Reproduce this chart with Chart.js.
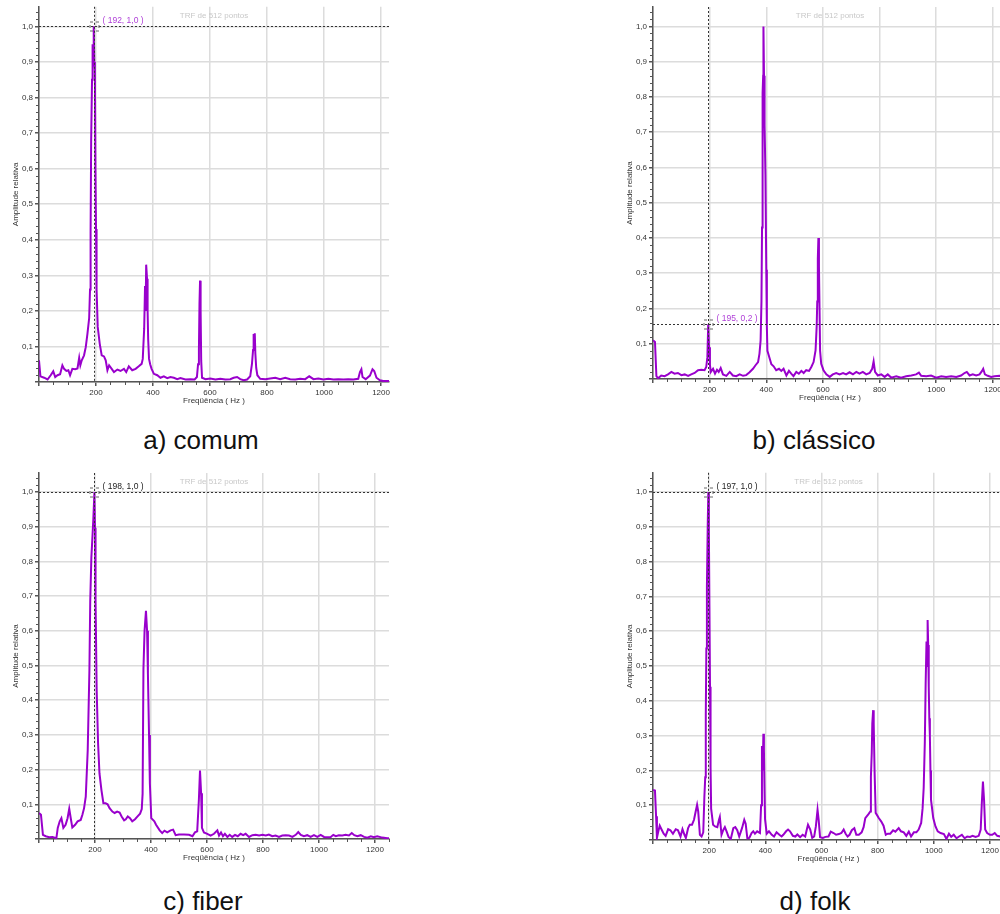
<!DOCTYPE html>
<html>
<head>
<meta charset="utf-8">
<script src="https://cdn.jsdelivr.net/npm/chart.js@4.4.1/dist/chart.umd.min.js"></script>
<style>
  html, body { margin: 0; padding: 0; background: #fff; }
  body { position: relative; width: 1000px; height: 914px; overflow: hidden; }
  canvas { position: absolute; }
  .caption {
    position: absolute; width: 300px; text-align: center;
    font-family: "Liberation Sans", Arial, sans-serif; font-size: 26px;
    line-height: 30px; color: #111;
  }
</style>
</head>
<body>
<canvas id="comum" width="392" height="410" style="left:0px;top:0px"></canvas>
<canvas id="classico" width="395" height="407" style="left:614px;top:0px"></canvas>
<canvas id="fiber" width="391" height="401" style="left:0px;top:466px"></canvas>
<canvas id="folk" width="392" height="402" style="left:614px;top:466px"></canvas>

<div class="caption" style="left:51px;top:425px">a) comum</div>
<div class="caption" style="left:664px;top:425px">b) clássico</div>
<div class="caption" style="left:53px;top:886px">c) fiber</div>
<div class="caption" style="left:665px;top:886px">d) folk</div>

<script>
// Espectros (TRF de 512 pontos) - frequência em Hz, amplitude relativa
const freqComum = [
  0, 5, 18, 30, 41, 50, 57, 65, 74, 82,
  88, 96, 103, 109, 117, 127, 135, 141, 145, 150,
  158, 164, 170, 176, 179, 181, 183, 186, 188, 190,
  192, 194, 196, 198, 200, 202, 206, 213, 220, 228,
  234, 240, 246, 255, 263, 275, 286, 298, 306, 315,
  327, 339, 350, 360, 364, 366, 369, 372, 374, 376,
  379, 381, 383, 386, 390, 395, 403, 415, 426, 438,
  450, 461, 473, 485, 496, 514, 531, 546, 554, 558,
  561, 563, 565, 567, 569, 572, 584, 601, 619, 636,
  654, 671, 683, 695, 706, 718, 730, 741, 747, 751,
  753, 755, 757, 759, 762, 766, 776, 794, 811, 829,
  846, 864, 881, 899, 916, 934, 948, 963, 980, 998,
  1015, 1033, 1050, 1068, 1085, 1103, 1120, 1126, 1131, 1135,
  1146, 1161, 1170, 1176, 1184, 1196, 1208, 1228
];
const ampComum = [
  0.061, 0.016, 0.012, 0.007, 0.019, 0.030, 0.014, 0.019, 0.022, 0.047,
  0.037, 0.031, 0.033, 0.019, 0.037, 0.036, 0.038, 0.068, 0.047, 0.061,
  0.075, 0.098, 0.136, 0.180, 0.260, 0.420, 0.680, 0.850, 0.950, 0.900,
  1.000, 0.900, 0.880, 0.600, 0.430, 0.260, 0.155, 0.108, 0.075, 0.072,
  0.061, 0.033, 0.047, 0.037, 0.028, 0.035, 0.031, 0.037, 0.028, 0.044,
  0.033, 0.037, 0.044, 0.051, 0.065, 0.100, 0.150, 0.270, 0.200, 0.330,
  0.290, 0.200, 0.120, 0.065, 0.050, 0.037, 0.023, 0.019, 0.012, 0.016,
  0.011, 0.014, 0.012, 0.008, 0.011, 0.007, 0.008, 0.007, 0.014, 0.050,
  0.090, 0.220, 0.285, 0.200, 0.060, 0.012, 0.008, 0.010, 0.007, 0.009,
  0.007, 0.008, 0.012, 0.014, 0.008, 0.005, 0.007, 0.016, 0.050, 0.090,
  0.135, 0.110, 0.137, 0.080, 0.040, 0.019, 0.009, 0.008, 0.010, 0.012,
  0.008, 0.012, 0.008, 0.007, 0.009, 0.008, 0.016, 0.008, 0.010, 0.007,
  0.009, 0.007, 0.008, 0.007, 0.008, 0.007, 0.009, 0.028, 0.036, 0.014,
  0.008, 0.018, 0.036, 0.031, 0.012, 0.005, 0.003, 0.003
];

const freqClassico = [
  0, 3, 7, 12, 18, 29, 41, 53, 65, 76,
  88, 100, 112, 124, 135, 147, 159, 171, 182, 188,
  192, 195, 198, 201, 204, 212, 219, 226, 232, 239,
  247, 259, 271, 282, 294, 306, 318, 329, 341, 353,
  362, 371, 376, 380, 383, 385, 387, 389, 390, 392,
  394, 397, 400, 402, 404, 412, 418, 426, 435, 445,
  453, 461, 471, 480, 488, 496, 506, 515, 524, 532,
  541, 551, 559, 567, 574, 578, 580, 582, 584, 586,
  588, 590, 594, 602, 612, 624, 635, 647, 659, 671,
  682, 694, 706, 718, 729, 741, 753, 765, 774, 779,
  784, 794, 806, 818, 829, 841, 859, 876, 894, 912,
  929, 939, 947, 965, 982, 1000, 1018, 1035, 1053, 1071,
  1088, 1100, 1108, 1118, 1129, 1141, 1153, 1162, 1166, 1172,
  1182, 1194, 1206, 1224, 1240, 1250
];
const ampClassico = [
  0.110, 0.110, 0.105, 0.008, 0.002, 0.010, 0.008, 0.013, 0.020, 0.015,
  0.017, 0.011, 0.013, 0.009, 0.013, 0.017, 0.025, 0.026, 0.025, 0.034,
  0.062, 0.155, 0.090, 0.040, 0.020, 0.029, 0.015, 0.026, 0.020, 0.031,
  0.013, 0.009, 0.020, 0.010, 0.008, 0.013, 0.009, 0.011, 0.019, 0.029,
  0.039, 0.048, 0.072, 0.110, 0.220, 0.430, 0.810, 0.860, 1.000, 0.860,
  0.720, 0.580, 0.310, 0.150, 0.080, 0.058, 0.042, 0.036, 0.025, 0.029,
  0.023, 0.029, 0.010, 0.023, 0.015, 0.008, 0.020, 0.015, 0.023, 0.017,
  0.025, 0.023, 0.034, 0.048, 0.081, 0.150, 0.220, 0.340, 0.400, 0.320,
  0.200, 0.080, 0.043, 0.025, 0.013, 0.006, 0.013, 0.017, 0.013, 0.017,
  0.013, 0.019, 0.013, 0.020, 0.015, 0.020, 0.013, 0.017, 0.029, 0.050,
  0.020, 0.010, 0.013, 0.006, 0.013, 0.004, 0.008, 0.004, 0.008, 0.010,
  0.013, 0.018, 0.009, 0.008, 0.010, 0.004, 0.008, 0.006, 0.008, 0.006,
  0.010, 0.017, 0.020, 0.010, 0.013, 0.010, 0.013, 0.023, 0.029, 0.013,
  0.009, 0.006, 0.008, 0.009, 0.008, 0.008
];

const freqFiber = [
  0, 7, 14, 24, 36, 48, 62, 67, 74, 80,
  87, 95, 102, 108, 114, 119, 129, 138, 149, 155,
  161, 167, 174, 180, 183, 187, 191, 194, 198, 200,
  202, 206, 211, 216, 223, 230, 238, 245, 252, 262,
  270, 279, 288, 295, 304, 310, 317, 325, 333, 343,
  352, 361, 367, 370, 373, 377, 382, 386, 389, 393,
  396, 401, 412, 418, 431, 440, 448, 458, 470, 479,
  488, 500, 518, 536, 548, 557, 565, 571, 575, 579,
  582, 589, 601, 613, 625, 637, 643, 650, 657, 664,
  673, 681, 690, 700, 710, 720, 729, 738, 750, 762,
  774, 786, 798, 810, 821, 833, 845, 857, 869, 881,
  893, 905, 917, 926, 935, 946, 958, 970, 982, 994,
  1006, 1018, 1030, 1042, 1051, 1060, 1071, 1083, 1095, 1107,
  1117, 1126, 1137, 1149, 1161, 1173, 1185, 1196, 1208, 1226,
  1244, 1250
];
const ampFiber = [
  0.075, 0.070, 0.012, 0.008, 0.005, 0.006, 0.002, 0.032, 0.051, 0.060,
  0.032, 0.041, 0.060, 0.087, 0.057, 0.033, 0.041, 0.051, 0.055, 0.070,
  0.089, 0.122, 0.256, 0.485, 0.686, 0.811, 0.873, 0.921, 1.000, 0.897,
  0.686, 0.428, 0.275, 0.189, 0.141, 0.103, 0.103, 0.100, 0.089, 0.079,
  0.075, 0.079, 0.076, 0.065, 0.054, 0.057, 0.065, 0.060, 0.051, 0.057,
  0.065, 0.073, 0.086, 0.130, 0.490, 0.600, 0.658, 0.600, 0.476, 0.300,
  0.160, 0.060, 0.051, 0.041, 0.025, 0.017, 0.024, 0.019, 0.025, 0.027,
  0.011, 0.013, 0.013, 0.012, 0.008, 0.019, 0.022, 0.113, 0.197, 0.132,
  0.032, 0.019, 0.015, 0.010, 0.015, 0.025, 0.010, 0.019, 0.008, 0.015,
  0.006, 0.012, 0.006, 0.012, 0.008, 0.015, 0.011, 0.015, 0.006, 0.011,
  0.012, 0.010, 0.012, 0.010, 0.013, 0.008, 0.010, 0.006, 0.010, 0.011,
  0.010, 0.006, 0.012, 0.020, 0.012, 0.008, 0.011, 0.006, 0.011, 0.006,
  0.012, 0.006, 0.005, 0.006, 0.012, 0.008, 0.011, 0.010, 0.012, 0.010,
  0.017, 0.011, 0.008, 0.011, 0.006, 0.004, 0.008, 0.005, 0.008, 0.004,
  0.002, 0.002
];

const freqFolk = [
  0, 3, 7, 11, 14, 19, 24, 30, 38, 45,
  54, 62, 71, 81, 89, 98, 105, 112, 117, 125,
  131, 139, 146, 152, 157, 161, 167, 173, 179, 183,
  186, 188, 190, 192, 195, 197, 199, 201, 203, 205,
  207, 214, 221, 229, 235, 238, 244, 250, 256, 262,
  269, 277, 286, 293, 300, 307, 317, 325, 330, 336,
  343, 351, 357, 363, 371, 381, 385, 388, 391, 393,
  395, 397, 399, 405, 413, 423, 431, 440, 450, 458,
  464, 474, 481, 488, 498, 507, 514, 524, 533, 542,
  548, 552, 560, 567, 574, 580, 586, 590, 595, 605,
  614, 625, 633, 643, 652, 662, 671, 679, 686, 693,
  700, 708, 717, 724, 733, 743, 750, 756, 768, 774,
  776, 779, 781, 784, 786, 789, 793, 804, 813, 821,
  829, 836, 845, 855, 863, 875, 883, 893, 902, 911,
  919, 929, 938, 946, 955, 960, 964, 968, 971, 974,
  976, 978, 980, 982, 984, 986, 988, 990, 998, 1006,
  1014, 1024, 1036, 1045, 1054, 1062, 1071, 1081, 1090, 1100,
  1110, 1119, 1129, 1138, 1149, 1160, 1167, 1171, 1175, 1179,
  1183, 1190, 1200, 1208, 1217, 1226, 1236, 1250
];
const ampFolk = [
  0.144, 0.144, 0.142, 0.068, 0.006, 0.025, 0.041, 0.031, 0.018, 0.012,
  0.031, 0.028, 0.018, 0.031, 0.028, 0.010, 0.031, 0.015, 0.006, 0.034,
  0.044, 0.044, 0.058, 0.082, 0.101, 0.082, 0.015, 0.010, 0.022, 0.125,
  0.180, 0.360, 0.550, 0.730, 0.910, 1.000, 0.890, 0.670, 0.440, 0.210,
  0.090, 0.044, 0.039, 0.037, 0.058, 0.066, 0.015, 0.028, 0.037, 0.025,
  0.009, 0.003, 0.034, 0.037, 0.028, 0.010, 0.034, 0.058, 0.047, 0.005,
  0.006, 0.020, 0.025, 0.018, 0.025, 0.020, 0.100, 0.270, 0.200, 0.305,
  0.260, 0.150, 0.060, 0.018, 0.025, 0.015, 0.010, 0.022, 0.015, 0.010,
  0.015, 0.025, 0.030, 0.025, 0.012, 0.010, 0.016, 0.008, 0.015, 0.010,
  0.031, 0.044, 0.030, 0.006, 0.010, 0.039, 0.087, 0.058, 0.008, 0.006,
  0.009, 0.010, 0.024, 0.020, 0.015, 0.017, 0.020, 0.030, 0.018, 0.010,
  0.015, 0.028, 0.034, 0.015, 0.015, 0.022, 0.037, 0.063, 0.075, 0.082,
  0.182, 0.250, 0.335, 0.373, 0.335, 0.200, 0.078, 0.063, 0.053, 0.041,
  0.015, 0.018, 0.018, 0.028, 0.024, 0.034, 0.025, 0.022, 0.012, 0.024,
  0.010, 0.022, 0.022, 0.030, 0.049, 0.090, 0.150, 0.280, 0.450, 0.570,
  0.500, 0.632, 0.560, 0.440, 0.350, 0.300, 0.200, 0.116, 0.063, 0.039,
  0.025, 0.020, 0.017, 0.003, 0.018, 0.009, 0.015, 0.005, 0.010, 0.015,
  0.005, 0.010, 0.009, 0.012, 0.009, 0.012, 0.030, 0.106, 0.168, 0.115,
  0.030, 0.020, 0.015, 0.015, 0.020, 0.012, 0.010, 0.010
];

// cursor marcado em cada espectro (frequência, amplitude)
const cursorFreq = [192, 195, 198, 197];
const cursorAmp = [1.0, 0.155, 1.0, 1.0];

// marcas dos eixos
const xTicks = [0, 200, 400, 600, 800, 1000, 1200];
const yTicks = [0, 0.1, 0.2, 0.3, 0.4, 0.5, 0.6, 0.7, 0.8, 0.9, 1.0];

const FONT = '"Liberation Sans", Arial, sans-serif';
Chart.defaults.font.family = FONT;
Chart.defaults.font.size = 8;

const fmt = v => (Math.round(v * 10) / 10).toFixed(1).replace('.', ',');

// título interno, marcas menores dos eixos e cursor tracejado
const decor = {
  id: 'decor',
  afterDatasetsDraw(chart, args, opts) {
    const { ctx, chartArea: area, scales: { x, y } } = chart;
    ctx.save();

    // marcas menores
    ctx.strokeStyle = '#555';
    ctx.lineWidth = 1;
    ctx.beginPath();
    for (let k = 1; k * 0.02 <= y.max; k++) {
      if (k % 5 === 0) continue;
      const py = Math.round(y.getPixelForValue(k * 0.02)) + 0.5;
      ctx.moveTo(area.left - 3, py);
      ctx.lineTo(area.left, py);
    }
    for (let k = 1; k * 50 <= x.max; k++) {
      if (k % 4 === 0) continue;
      const px = Math.round(x.getPixelForValue(k * 50)) + 0.5;
      ctx.moveTo(px, area.bottom);
      ctx.lineTo(px, area.bottom + 3);
    }
    ctx.stroke();

    // título
    ctx.fillStyle = '#c8c8c8';
    ctx.font = '8px ' + FONT;
    ctx.textAlign = 'center';
    ctx.textBaseline = 'middle';
    ctx.fillText('TRF de 512 pontos', (area.left + area.right) / 2, area.top + 9);

    // cursor
    const px = Math.round(x.getPixelForValue(opts.cx)) + 0.5;
    const py = Math.round(y.getPixelForValue(opts.cy)) + 0.5;
    ctx.strokeStyle = '#333';
    ctx.setLineDash([2, 2]);
    ctx.beginPath();
    ctx.moveTo(px, area.top);
    ctx.lineTo(px, area.bottom);
    ctx.moveTo(area.left, py);
    ctx.lineTo(area.right, py);
    ctx.stroke();
    ctx.strokeStyle = '#666';
    ctx.setLineDash([3, 3]);
    ctx.strokeRect(px - 4.5, py - 4.5, 9, 9);
    ctx.setLineDash([]);

    ctx.fillStyle = opts.labelColor;
    ctx.font = '8.5px ' + FONT;
    ctx.textAlign = 'left';
    ctx.fillText('( ' + opts.cx + ', ' + fmt(opts.cy) + ' )', px + 8, py - 6);
    ctx.restore();
  }
};

function makeChart(id, freqs, amps, xMax, pad, cursorIdx, labelColor) {
  return new Chart(document.getElementById(id), {
    type: 'line',
    data: {
      datasets: [{
        data: freqs.map((f, i) => ({ x: f, y: amps[i] })),
        borderColor: '#9900cc',
        borderWidth: 2,
        pointRadius: 0,
        tension: 0
      }]
    },
    options: {
      responsive: false,
      animation: false,
      layout: { autoPadding: false, padding: pad },
      plugins: {
        legend: { display: false },
        tooltip: { enabled: false },
        decor: { cx: cursorFreq[cursorIdx], cy: cursorAmp[cursorIdx], labelColor: labelColor }
      },
      scales: {
        x: {
          type: 'linear',
          min: 0,
          max: xMax,
          afterFit: s => { s.height = 28; },
          afterBuildTicks: s => { s.ticks = xTicks.map(v => ({ value: v })); },
          ticks: {
            autoSkip: false,
            maxRotation: 0,
            padding: 2,
            color: '#333',
            callback: v => (v === 0 ? '' : String(v))
          },
          grid: { color: '#dcdcdc', lineWidth: 1.5, tickLength: 4, tickColor: '#555' },
          border: { color: '#555', width: 1.5 },
          title: { display: true, text: 'Freqüência ( Hz )', color: '#333', padding: { top: 0, bottom: 4 } }
        },
        y: {
          min: 0,
          max: 1.055,
          afterFit: s => { s.width = 39; },
          afterBuildTicks: s => { s.ticks = yTicks.map(v => ({ value: v })); },
          ticks: {
            autoSkip: false,
            padding: 2,
            color: '#333',
            callback: v => (v === 0 ? '' : fmt(v))
          },
          grid: { color: '#dcdcdc', lineWidth: 1.5, tickLength: 4, tickColor: '#555' },
          border: { color: '#555', width: 1.5 },
          title: { display: true, text: 'Amplitude relativa', color: '#333', padding: { top: 11, bottom: 0 } }
        }
      }
    },
    plugins: [decor]
  });
}

makeChart('comum', freqComum, ampComum, 1228, { top: 6, right: 2, left: 0, bottom: 0 }, 0, '#b040d8');
makeChart('classico', freqClassico, ampClassico, 1250, { top: 7, right: 2, left: 0, bottom: 0 }, 1, '#b040d8');
makeChart('fiber', freqFiber, ampFiber, 1250, { top: 7, right: 2, left: 0, bottom: 0 }, 2, '#222');
makeChart('folk', freqFolk, ampFolk, 1250, { top: 6, right: 2, left: 0, bottom: 0 }, 3, '#222');
</script>
</body>
</html>
